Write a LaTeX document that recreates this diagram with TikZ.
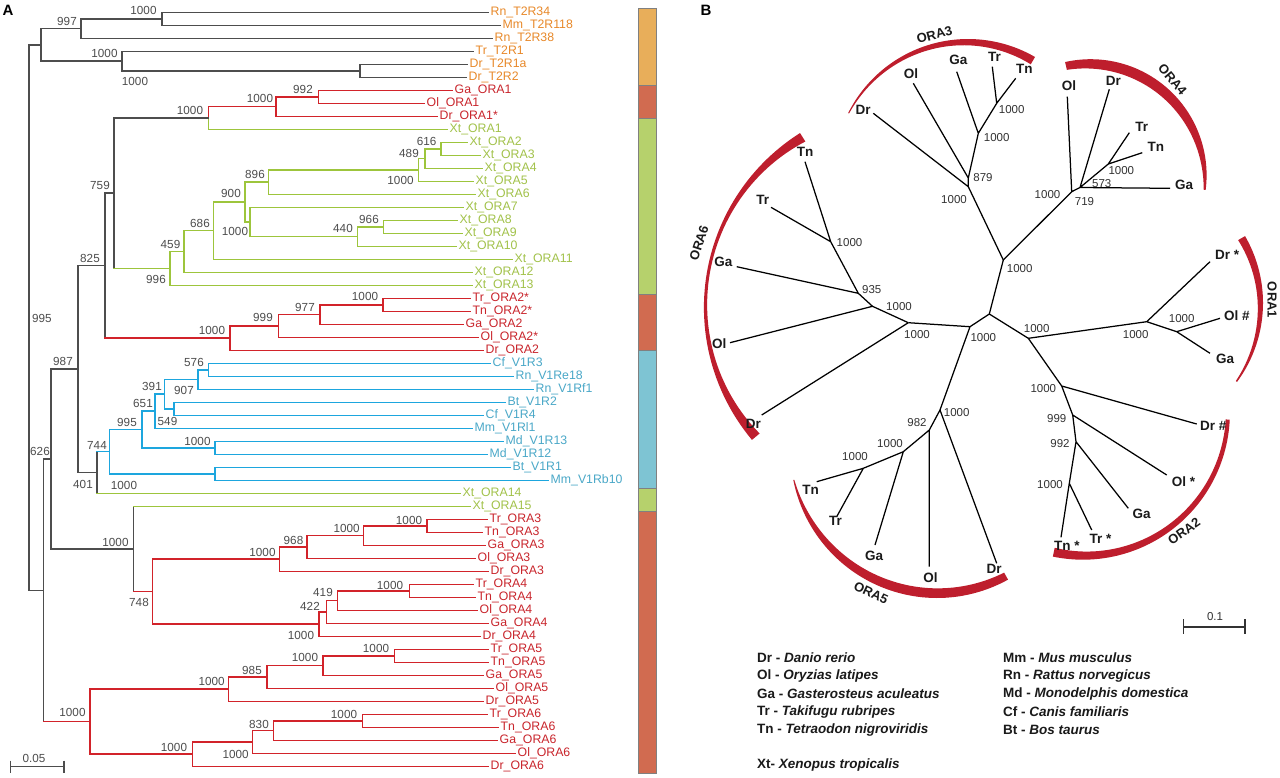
\documentclass[tikz,border=0pt]{standalone}
\usepackage{fontspec}
\setmainfont{Liberation Sans}
\usetikzlibrary{calc}
\definecolor{gry}{HTML}{4D4D4D}
\definecolor{trred}{HTML}{D2232A}
\definecolor{trgrn}{HTML}{9DC53C}
\definecolor{trblu}{HTML}{1DA6DE}
\definecolor{lborg}{HTML}{E8892A}
\definecolor{lbred}{HTML}{C9252C}
\definecolor{lbgrn}{HTML}{A2C24A}
\definecolor{lbblu}{HTML}{4AA8C8}
\definecolor{arcred}{HTML}{BE1E2D}
\definecolor{barorg}{HTML}{E8AE5A}
\definecolor{barred}{HTML}{D16B50}
\definecolor{bargrn}{HTML}{B6D16C}
\definecolor{barblu}{HTML}{7EC4D3}
\definecolor{numgry}{HTML}{333333}
\definecolor{tipblk}{HTML}{1A1A1A}

\newcommand\lf[5]{\coordinate (#1) at (#2,12.3+13*#3); \node[leaflab,text=#5] (#1t) at (#1) {#4};}
\newcommand\inode[4]{\path let \p1=(#3), \p2=(#4) in coordinate (#1) at (#2,{0.5*\y1+0.5*\y2});}
\newcommand\ed[4]{\draw[br,#3] (#1) -- (#1 |- #2); \draw[br,#4] (#1 |- #2) -- (#2);}
\newcommand\bl[3]{\node[bs] (#1) at (#2) {#3};}
\newcommand\rb[3]{\node[rbs] (#1) at (#2) {#3};}
\newcommand\crescent[8]{%
 \fill[arcred, declare function={ss(\u)=(\u-(#4))/((#5)-(#4)); wf(\u)=(#6)*(1-ss(\u))*(1-2*ss(\u))+4*(#7)*ss(\u)*(1-ss(\u))+(#8)*ss(\u)*(2*ss(\u)-1);}]
 plot[domain=#4:#5, samples=60, variable=\t] ({#1+#3*cos(\t)},{#2+#3*sin(\t)})
 -- plot[domain=#5:#4, samples=60, variable=\t] ({#1+(#3-wf(\t))*cos(\t)},{#2+(#3-wf(\t))*sin(\t)}) -- cycle;}

\begin{document}
\begin{tikzpicture}[x=1pt,y=-1pt,
 br/.style={line width=1.6pt, line cap=rect},
 leaflab/.style={anchor=west, inner sep=0pt, xshift=2.5pt, font=\fontsize{12.3}{13}\selectfont},
 bs/.style={inner sep=0pt, font=\fontsize{11.7}{12}\selectfont, text=gry},
 rbs/.style={inner sep=0pt, font=\fontsize{11.5}{12}\selectfont, text=numgry},
 rt/.style={line width=1.25pt, black},
 tip/.style={inner sep=0pt, font=\bfseries\fontsize{13.5}{14}\selectfont, text=tipblk},
 oralab/.style={inner sep=0pt, font=\bfseries\fontsize{13}{13}\selectfont, text=tipblk},
 leg/.style={anchor=west, inner sep=0pt, font=\bfseries\fontsize{13.5}{14}\selectfont, text=tipblk}]
\useasboundingbox (0,0) rectangle (1280,777);
\fill[white] (0,0) rectangle (1280,777);

% panel letters
\node[inner sep=0pt, font=\bfseries\fontsize{15}{15}\selectfont] (pA) at (8,10) {A};
\node[inner sep=0pt, font=\bfseries\fontsize{15}{15}\selectfont] (pB) at (706,10) {B};

% ---------------- left tree leaves
\lf{l0}{488}{0}{Rn\_T2R34}{lborg}
\lf{l1}{500}{1}{Mm\_T2R118}{lborg}
\lf{l2}{492}{2}{Rn\_T2R38}{lborg}
\lf{l3}{473}{3}{Tr\_T2R1}{lborg}
\lf{l4}{467}{4}{Dr\_T2R1a}{lborg}
\lf{l5}{466}{5}{Dr\_T2R2}{lborg}
\lf{l6}{452}{6}{Ga\_ORA1}{lbred}
\lf{l7}{424}{7}{Ol\_ORA1}{lbred}
\lf{l8}{437}{8}{Dr\_ORA1*}{lbred}
\lf{l9}{447}{9}{Xt\_ORA1}{lbgrn}
\lf{l10}{467}{10}{Xt\_ORA2}{lbgrn}
\lf{l11}{480}{11}{Xt\_ORA3}{lbgrn}
\lf{l12}{482}{12}{Xt\_ORA4}{lbgrn}
\lf{l13}{473}{13}{Xt\_ORA5}{lbgrn}
\lf{l14}{475}{14}{Xt\_ORA6}{lbgrn}
\lf{l15}{463}{15}{Xt\_ORA7}{lbgrn}
\lf{l16}{457}{16}{Xt\_ORA8}{lbgrn}
\lf{l17}{462}{17}{Xt\_ORA9}{lbgrn}
\lf{l18}{456}{18}{Xt\_ORA10}{lbgrn}
\lf{l19}{512}{19}{Xt\_ORA11}{lbgrn}
\lf{l20}{472}{20}{Xt\_ORA12}{lbgrn}
\lf{l21}{472}{21}{Xt\_ORA13}{lbgrn}
\lf{l22}{470}{22}{Tr\_ORA2*}{lbred}
\lf{l23}{470}{23}{Tn\_ORA2*}{lbred}
\lf{l24}{463}{24}{Ga\_ORA2}{lbred}
\lf{l25}{478}{25}{Ol\_ORA2*}{lbred}
\lf{l26}{483}{26}{Dr\_ORA2}{lbred}
\lf{l27}{490}{27}{Cf\_V1R3}{lbblu}
\lf{l28}{513}{28}{Rn\_V1Re18}{lbblu}
\lf{l29}{533}{29}{Rn\_V1Rf1}{lbblu}
\lf{l30}{505}{30}{Bt\_V1R2}{lbblu}
\lf{l31}{483}{31}{Cf\_V1R4}{lbblu}
\lf{l32}{472}{32}{Mm\_V1Rl1}{lbblu}
\lf{l33}{503}{33}{Md\_V1R13}{lbblu}
\lf{l34}{487}{34}{Md\_V1R12}{lbblu}
\lf{l35}{510}{35}{Bt\_V1R1}{lbblu}
\lf{l36}{548}{36}{Mm\_V1Rb10}{lbblu}
\lf{l37}{460}{37}{Xt\_ORA14}{lbgrn}
\lf{l38}{470}{38}{Xt\_ORA15}{lbgrn}
\lf{l39}{487}{39}{Tr\_ORA3}{lbred}
\lf{l40}{482}{40}{Tn\_ORA3}{lbred}
\lf{l41}{485}{41}{Ga\_ORA3}{lbred}
\lf{l42}{475}{42}{Ol\_ORA3}{lbred}
\lf{l43}{488}{43}{Dr\_ORA3}{lbred}
\lf{l44}{473}{44}{Tr\_ORA4}{lbred}
\lf{l45}{475}{45}{Tn\_ORA4}{lbred}
\lf{l46}{477}{46}{Ol\_ORA4}{lbred}
\lf{l47}{488}{47}{Ga\_ORA4}{lbred}
\lf{l48}{480}{48}{Dr\_ORA4}{lbred}
\lf{l49}{488}{49}{Tr\_ORA5}{lbred}
\lf{l50}{488}{50}{Tn\_ORA5}{lbred}
\lf{l51}{483}{51}{Ga\_ORA5}{lbred}
\lf{l52}{493}{52}{Ol\_ORA5}{lbred}
\lf{l53}{483}{53}{Dr\_ORA5}{lbred}
\lf{l54}{487}{54}{Tr\_ORA6}{lbred}
\lf{l55}{498}{55}{Tn\_ORA6}{lbred}
\lf{l56}{497}{56}{Ga\_ORA6}{lbred}
\lf{l57}{515}{57}{Ol\_ORA6}{lbred}
\lf{l58}{488}{58}{Dr\_ORA6}{lbred}

% ---------------- left tree internal nodes
\inode{t1}{161.7}{l0}{l1}
\inode{t2}{80.7}{t1}{l2}
\inode{t4}{360}{l4}{l5}
\inode{t3}{121.7}{l3}{t4}
\inode{t5}{40.7}{t2}{t3}
\inode{o1a}{318.3}{l6}{l7}
\inode{o1b}{276}{o1a}{l8}
\inode{o1}{208.3}{o1b}{l9}
\inode{x616}{440.7}{l10}{l11}
\inode{x489}{425}{x616}{l12}
\inode{xa}{418.3}{x489}{l13}
\inode{x896}{268.3}{xa}{l14}
\inode{x966}{383.3}{l16}{l17}
\inode{x440}{357.3}{x966}{l18}
\inode{xb}{250}{l15}{x440}
\inode{x900}{245}{x896}{xb}
\inode{x213}{213.3}{x900}{l19}
\inode{x686}{184}{x213}{l20}
\inode{x459}{170}{x686}{l21}
\inode{n759}{114}{o1}{x459}
\inode{a977a}{382.7}{l22}{l23}
\inode{a977}{320}{a977a}{l24}
\inode{a999}{278.3}{a977}{l25}
\inode{o2}{230}{a999}{l26}
\inode{n825}{105}{n759}{o2}
\inode{v576}{208.3}{l27}{l28}
\inode{v907}{197.7}{v576}{l29}
\inode{v549}{174}{l30}{l31}
\inode{v391}{164.3}{v907}{v549}
\inode{v651}{155}{v391}{l32}
\inode{vmd}{215}{l33}{l34}
\inode{v995}{141.7}{v651}{vmd}
\inode{vbm}{215}{l35}{l36}
\inode{v744}{109.3}{v995}{vbm}
\inode{n401}{96.7}{v744}{l37}
\inode{n987}{77.7}{n825}{n401}
\inode{r3a}{426.7}{l39}{l40}
\inode{r3b}{363.3}{r3a}{l41}
\inode{r968}{306.7}{r3b}{l42}
\inode{r3}{279.3}{r968}{l43}
\inode{r4a}{409.3}{l44}{l45}
\inode{r419}{337.3}{r4a}{l46}
\inode{r422}{326.3}{r419}{l47}
\inode{r4}{319}{r422}{l48}
\inode{r748}{152.3}{r3}{r4}
\inode{n133}{133.3}{l38}{r748}
\inode{n995}{50.7}{n987}{n133}
\inode{r5a}{394.3}{l49}{l50}
\inode{r5b}{322.7}{r5a}{l51}
\inode{r985}{266.7}{r5b}{l52}
\inode{r5}{228.3}{r985}{l53}
\inode{r6a}{362.3}{l54}{l55}
\inode{r830}{273.3}{r6a}{l56}
\inode{r6b}{252.3}{r830}{l57}
\inode{r6}{192.3}{r6b}{l58}
\inode{r56}{90}{r5}{r6}
\inode{n626}{43.3}{n995}{r56}
\inode{root}{29}{t5}{n626}

% ---------------- left tree edges
\ed{t1}{l0}{gry}{gry} \ed{t1}{l1}{gry}{gry}
\ed{t2}{t1}{gry}{gry} \ed{t2}{l2}{gry}{gry}
\ed{t4}{l4}{gry}{gry} \ed{t4}{l5}{gry}{gry}
\ed{t3}{l3}{gry}{gry} \ed{t3}{t4}{gry}{gry}
\ed{t5}{t2}{gry}{gry} \ed{t5}{t3}{gry}{gry}
\ed{root}{t5}{gry}{gry} \ed{root}{n626}{gry}{gry}
\ed{o1a}{l6}{trred}{trred} \ed{o1a}{l7}{trred}{trred}
\ed{o1b}{o1a}{trred}{trred} \ed{o1b}{l8}{trred}{trred}
\ed{o1}{o1b}{trred}{trred} \ed{o1}{l9}{trgrn}{trgrn}
\ed{n759}{o1}{gry}{gry} \ed{n759}{x459}{gry}{trgrn}
\ed{x616}{l10}{trgrn}{trgrn} \ed{x616}{l11}{trgrn}{trgrn}
\ed{x489}{x616}{trgrn}{trgrn} \ed{x489}{l12}{trgrn}{trgrn}
\ed{xa}{x489}{trgrn}{trgrn} \ed{xa}{l13}{trgrn}{trgrn}
\ed{x896}{xa}{trgrn}{trgrn} \ed{x896}{l14}{trgrn}{trgrn}
\ed{x966}{l16}{trgrn}{trgrn} \ed{x966}{l17}{trgrn}{trgrn}
\ed{x440}{x966}{trgrn}{trgrn} \ed{x440}{l18}{trgrn}{trgrn}
\ed{xb}{l15}{trgrn}{trgrn} \ed{xb}{x440}{trgrn}{trgrn}
\ed{x900}{x896}{trgrn}{trgrn} \ed{x900}{xb}{trgrn}{trgrn}
\ed{x213}{x900}{trgrn}{trgrn} \ed{x213}{l19}{trgrn}{trgrn}
\ed{x686}{x213}{trgrn}{trgrn} \ed{x686}{l20}{trgrn}{trgrn}
\ed{x459}{x686}{trgrn}{trgrn} \ed{x459}{l21}{trgrn}{trgrn}
\ed{a977a}{l22}{trred}{trred} \ed{a977a}{l23}{trred}{trred}
\ed{a977}{a977a}{trred}{trred} \ed{a977}{l24}{trred}{trred}
\ed{a999}{a977}{trred}{trred} \ed{a999}{l25}{trred}{trred}
\ed{o2}{a999}{trred}{trred} \ed{o2}{l26}{trred}{trred}
\ed{n825}{n759}{gry}{gry} \ed{n825}{o2}{gry}{trred}
\ed{v576}{l27}{trblu}{trblu} \ed{v576}{l28}{trblu}{trblu}
\ed{v907}{v576}{trblu}{trblu} \ed{v907}{l29}{trblu}{trblu}
\ed{v549}{l30}{trblu}{trblu} \ed{v549}{l31}{trblu}{trblu}
\ed{v391}{v907}{trblu}{trblu} \ed{v391}{v549}{trblu}{trblu}
\ed{v651}{v391}{trblu}{trblu} \ed{v651}{l32}{trblu}{trblu}
\ed{vmd}{l33}{trblu}{trblu} \ed{vmd}{l34}{trblu}{trblu}
\ed{v995}{v651}{trblu}{trblu} \ed{v995}{vmd}{trblu}{trblu}
\ed{vbm}{l35}{trblu}{trblu} \ed{vbm}{l36}{trblu}{trblu}
\ed{v744}{v995}{trblu}{trblu} \ed{v744}{vbm}{trblu}{trblu}
\ed{n401}{v744}{gry}{trblu} \ed{n401}{l37}{gry}{trgrn}
\ed{n987}{n825}{gry}{gry} \ed{n987}{n401}{gry}{gry}
\ed{r3a}{l39}{trred}{trred} \ed{r3a}{l40}{trred}{trred}
\ed{r3b}{r3a}{trred}{trred} \ed{r3b}{l41}{trred}{trred}
\ed{r968}{r3b}{trred}{trred} \ed{r968}{l42}{trred}{trred}
\ed{r3}{r968}{trred}{trred} \ed{r3}{l43}{trred}{trred}
\ed{r4a}{l44}{trred}{trred} \ed{r4a}{l45}{trred}{trred}
\ed{r419}{r4a}{trred}{trred} \ed{r419}{l46}{trred}{trred}
\ed{r422}{r419}{trred}{trred} \ed{r422}{l47}{trred}{trred}
\ed{r4}{r422}{trred}{trred} \ed{r4}{l48}{trred}{trred}
\ed{r748}{r3}{trred}{trred} \ed{r748}{r4}{trred}{trred}
\ed{n133}{l38}{gry}{trgrn} \ed{n133}{r748}{gry}{trred}
\ed{n995}{n987}{gry}{gry} \ed{n995}{n133}{gry}{gry}
\ed{r5a}{l49}{trred}{trred} \ed{r5a}{l50}{trred}{trred}
\ed{r5b}{r5a}{trred}{trred} \ed{r5b}{l51}{trred}{trred}
\ed{r985}{r5b}{trred}{trred} \ed{r985}{l52}{trred}{trred}
\ed{r5}{r985}{trred}{trred} \ed{r5}{l53}{trred}{trred}
\ed{r6a}{l54}{trred}{trred} \ed{r6a}{l55}{trred}{trred}
\ed{r830}{r6a}{trred}{trred} \ed{r830}{l56}{trred}{trred}
\ed{r6b}{r830}{trred}{trred} \ed{r6b}{l57}{trred}{trred}
\ed{r6}{r6b}{trred}{trred} \ed{r6}{l58}{trred}{trred}
\ed{r56}{r5}{trred}{trred} \ed{r56}{r6}{trred}{trred}
\ed{n626}{n995}{gry}{gry} \ed{n626}{r56}{gry}{trred}

% ---------------- left tree bootstrap values
\bl{b1}{67,21}{997}
\bl{b2}{143.5,10}{1000}
\bl{b3}{104.5,53}{1000}
\bl{b4}{135,81}{1000}
\bl{b5}{260,98.3}{1000}
\bl{b6}{303,89.3}{992}
\bl{b7}{190,110}{1000}
\bl{b8}{100,185}{759}
\bl{b9}{255,174.3}{896}
\bl{b10}{231,193.3}{900}
\bl{b11}{426.7,141.7}{616}
\bl{b12}{409,153.3}{489}
\bl{b13}{400.5,180.7}{1000}
\bl{b14}{200,223.3}{686}
\bl{b15}{235,231.7}{1000}
\bl{b16}{170.5,244}{459}
\bl{b17}{156,279.3}{996}
\bl{b18}{90,258.3}{825}
\bl{b19}{42,318.3}{995}
\bl{b20}{343,228.3}{440}
\bl{b21}{369,219.3}{966}
\bl{b22}{365,296.7}{1000}
\bl{b23}{305,307.3}{977}
\bl{b24}{263,317.7}{999}
\bl{b25}{212,330}{1000}
\bl{b26}{63,361.7}{987}
\bl{b27}{194,362.7}{576}
\bl{b28}{152,386.7}{391}
\bl{b29}{184,390}{907}
\bl{b30}{143,403.3}{651}
\bl{b31}{167.5,421.7}{549}
\bl{b32}{127,422.7}{995}
\bl{b33}{197.5,441.7}{1000}
\bl{b34}{97,445}{744}
\bl{b35}{40,451.7}{626}
\bl{b36}{83,484}{401}
\bl{b37}{124,485}{1000}
\bl{b38}{115.5,542.3}{1000}
\bl{b39}{293.5,540}{968}
\bl{b40}{262.5,552.3}{1000}
\bl{b41}{409,520}{1000}
\bl{b42}{346.7,528.3}{1000}
\bl{b43}{139,602.7}{748}
\bl{b44}{310,606}{422}
\bl{b45}{323,592.7}{419}
\bl{b46}{390,585}{1000}
\bl{b47}{301,635.7}{1000}
\bl{b48}{376,648.3}{1000}
\bl{b49}{305,657.7}{1000}
\bl{b50}{252,670}{985}
\bl{b51}{211.7,681}{1000}
\bl{b52}{72.5,712.7}{1000}
\bl{b53}{344,714}{1000}
\bl{b54}{259,724}{830}
\bl{b55}{174,747.3}{1000}
\bl{b56}{235.7,754.3}{1000}

% left scale bar
\coordinate (sbl) at (10.5,766.7);
\coordinate (sbr) at (64,766.7);
\draw[gry, line width=1.3pt] (sbl) -- (sbr);
\draw[gry, line width=1.3pt] ($(sbl)+(0,-6)$) -- ($(sbl)+(0,6)$);
\draw[gry, line width=1.3pt] ($(sbr)+(0,-6)$) -- ($(sbr)+(0,6)$);
\bl{sbt}{34,758.5}{0.05}

% colour bar
\fill[barorg] (638,8) rectangle (656,85);
\fill[barred] (638,85) rectangle (656,118);
\fill[bargrn] (638,118) rectangle (656,294);
\fill[barred] (638,294) rectangle (656,350);
\fill[barblu] (638,350) rectangle (656,488);
\fill[bargrn] (638,488) rectangle (656,511);
\fill[barred] (638,511) rectangle (656,773);
\draw[gray, line width=1pt] (638,8) rectangle (656,773);
\foreach \yy in {85,118,294,350,488,511} \draw[gray, line width=0.6pt] (638,\yy) -- (656,\yy);

% ---------------- right tree: crescents
\crescent{968}{173}{134}{-153.4}{-60}{1}{5}{8.5}
\crescent{1090.6}{175.2}{116}{-102.7}{7.3}{8}{10}{2}
\crescent{1129.8}{302.9}{133.2}{-30.1}{36.4}{8}{5}{1.5}
\crescent{1082.9}{412.7}{147}{2.7}{101.8}{4}{6}{9}
\crescent{937}{451.5}{146.5}{168.8}{61}{1}{9}{8}
\crescent{910.3}{307.5}{206.4}{140.1}{237.7}{10}{3}{10}

\node[oralab, rotate=15] (g3) at (934.5,35) {ORA3};
\node[oralab, rotate=-50] (g4) at (1172.5,79.5) {ORA4};
\node[oralab, rotate=-90] (g1) at (1272,300) {ORA1};
\node[oralab, rotate=35] (g2) at (1184,531.5) {ORA2};
\node[oralab, rotate=-25] (g5) at (871,593) {ORA5};
\node[oralab, rotate=72] (g6) at (699,243) {ORA6};

% ---------------- right tree nodes
\coordinate (X1) at (1003.3,260);
\coordinate (X2) at (989.3,314);
\coordinate (X3) at (970,326.7);
\coordinate (X4) at (908.3,322.7);
\coordinate (X5) at (1028.3,338.3);
% ORA3
\coordinate (A3a) at (968.3,186.7);
\coordinate (A3b) at (968.3,178);
\coordinate (A3c) at (978.3,133.3);
\coordinate (A3d) at (996.7,103.3);
\coordinate (T3dr) at (873.3,113.3);
\coordinate (T3ol) at (913.3,83.3);
\coordinate (T3ga) at (956.7,71.7);
\coordinate (T3tr) at (992.3,66.7);
\coordinate (T3tn) at (1015.7,78.3);
% ORA4
\coordinate (A4a) at (1071.7,191.7);
\coordinate (A4b) at (1080,187.5);
\coordinate (A4c) at (1108.3,164);
\coordinate (T4ol) at (1067.3,96.7);
\coordinate (T4dr) at (1109.3,89.3);
\coordinate (T4tr) at (1129.3,132.7);
\coordinate (T4tn) at (1142.3,152.7);
\coordinate (T4ga) at (1170,188.3);
% ORA6
\coordinate (Z1) at (872.5,306.3);
\coordinate (Z2) at (858.3,293.3);
\coordinate (Z3) at (830.7,241.7);
\coordinate (T6dr) at (761.7,415);
\coordinate (T6ol) at (730,342.7);
\coordinate (T6ga) at (736.7,266.7);
\coordinate (T6tr) at (771,207.3);
\coordinate (T6tn) at (805,161.7);
% ORA5
\coordinate (Y1) at (940,410);
\coordinate (Y2) at (929.3,430);
\coordinate (Y3) at (903.3,451.7);
\coordinate (Y4) at (863.3,468.3);
\coordinate (T5dr) at (996.7,563.3);
\coordinate (T5ol) at (929.3,566.7);
\coordinate (T5ga) at (875,545);
\coordinate (T5tn) at (816.7,481.7);
\coordinate (T5tr) at (836.7,516.7);
% ORA1
\coordinate (W1) at (1146.7,321.7);
\coordinate (W2) at (1176.7,331.7);
\coordinate (T1dr) at (1210,261.7);
\coordinate (T1ol) at (1220,318.3);
\coordinate (T1ga) at (1210,353.3);
% ORA2
\coordinate (V1) at (1061.7,386);
\coordinate (V2) at (1072.7,415);
\coordinate (V3) at (1076,441.7);
\coordinate (V4) at (1069.3,483.3);
\coordinate (T2dr) at (1196.7,424);
\coordinate (T2ol) at (1166.7,475);
\coordinate (T2ga) at (1128.3,508.3);
\coordinate (T2tn) at (1061,537.3);
\coordinate (T2tr) at (1091.7,530);

% right tree edges
\draw[rt] (X1) -- (X2) (X2) -- (X3) (X2) -- (X5) (X3) -- (X4) (X3) -- (Y1);
\draw[rt] (X1) -- (A3a) (A3a) -- (T3dr) (A3a) -- (A3b) (A3b) -- (T3ol) (A3b) -- (A3c)
  (A3c) -- (T3ga) (A3c) -- (A3d) (A3d) -- (T3tr) (A3d) -- (T3tn);
\draw[rt] (X1) -- (A4a) (A4a) -- (T4ol) (A4a) -- (A4b) (A4b) -- (T4ga) (A4b) -- (T4dr)
  (A4b) -- (A4c) (A4c) -- (T4tr) (A4c) -- (T4tn);
\draw[rt] (X4) -- (T6dr) (X4) -- (Z1) (Z1) -- (T6ol) (Z1) -- (Z2) (Z2) -- (T6ga)
  (Z2) -- (Z3) (Z3) -- (T6tr) (Z3) -- (T6tn);
\draw[rt] (Y1) -- (T5dr) (Y1) -- (Y2) (Y2) -- (T5ol) (Y2) -- (Y3) (Y3) -- (T5ga)
  (Y3) -- (Y4) (Y4) -- (T5tn) (Y4) -- (T5tr);
\draw[rt] (X5) -- (W1) (W1) -- (T1dr) (W1) -- (W2) (W2) -- (T1ol) (W2) -- (T1ga);
\draw[rt] (X5) -- (V1) (V1) -- (T2dr) (V1) -- (V2) (V2) -- (T2ol) (V2) -- (V3)
  (V3) -- (T2ga) (V3) -- (V4) (V4) -- (T2tn) (V4) -- (T2tr);

% right tree tip labels
\node[tip] (k3dr) at (863,110) {Dr};
\node[tip] (k3ol) at (911,73.3) {Ol};
\node[tip] (k3ga) at (958.3,60) {Ga};
\node[tip] (k3tr) at (994.5,56.7) {Tr};
\node[tip] (k3tn) at (1024.3,68.7) {Tn};
\node[tip] (k4ol) at (1069,85.3) {Ol};
\node[tip] (k4dr) at (1113.3,80.5) {Dr};
\node[tip] (k4tr) at (1141.7,126.7) {Tr};
\node[tip] (k4tn) at (1155.8,146.7) {Tn};
\node[tip] (k4ga) at (1184,185.3) {Ga};
\node[tip] (k6tn) at (805,151.7) {Tn};
\node[tip] (k6tr) at (762.8,199.7) {Tr};
\node[tip] (k6ga) at (723.3,261.7) {Ga};
\node[tip] (k6ol) at (719.2,343.8) {Ol};
\node[tip] (k6dr) at (753.3,423.8) {Dr};
\node[tip] (k5dr) at (994.2,569) {Dr};
\node[tip] (k5ol) at (930.5,577.5) {Ol};
\node[tip] (k5ga) at (874,556) {Ga};
\node[tip] (k5tr) at (835.5,521) {Tr};
\node[tip] (k5tn) at (810.5,489.5) {Tn};
\node[tip, anchor=west] (k1dr) at (1215,255) {Dr *};
\node[tip, anchor=west] (k1ol) at (1224,315.5) {Ol \#};
\node[tip] (k1ga) at (1225,358.7) {Ga};
\node[tip, anchor=west] (k2dr) at (1200,426) {Dr \#};
\node[tip, anchor=west] (k2ol) at (1171.7,482) {Ol *};
\node[tip] (k2ga) at (1141.7,514) {Ga};
\node[tip, anchor=west] (k2tn) at (1054,545.8) {Tn *};
\node[tip, anchor=west] (k2tr) at (1089.3,539) {Tr *};

% right tree bootstrap values
\rb{c1}{983,177.7}{879}
\rb{c2}{954,199.3}{1000}
\rb{c3}{996.7,137.3}{1000}
\rb{c4}{1011.7,110}{1000}
\rb{c5}{1047.5,194.3}{1000}
\rb{c6}{1084.5,201.7}{719}
\rb{c7}{1101.7,183.3}{573}
\rb{c8}{1121.3,171}{1000}
\rb{c9}{1019.7,268.3}{1000}
\rb{c10}{849.5,242.7}{1000}
\rb{c11}{871.7,290}{935}
\rb{c12}{899,306.3}{1000}
\rb{c13}{917,335}{1000}
\rb{c14}{983.3,337.3}{1000}
\rb{c15}{956.7,412.3}{1000}
\rb{c16}{917,422.7}{982}
\rb{c17}{890,443.3}{1000}
\rb{c18}{855,457}{1000}
\rb{c19}{1036.7,328.3}{1000}
\rb{c20}{1135.7,335}{1000}
\rb{c21}{1181.7,318.3}{1000}
\rb{c22}{1043.3,388.3}{1000}
\rb{c23}{1056.7,418.3}{999}
\rb{c24}{1060,444}{992}
\rb{c25}{1050,484.3}{1000}

% right scale bar
\coordinate (rsl) at (1183.3,627);
\coordinate (rsr) at (1245,627);
\draw[numgry, line width=1.2pt] (rsl) -- (rsr);
\draw[numgry, line width=1.2pt] ($(rsl)+(0,-8)$) -- ($(rsl)+(0,7)$);
\draw[numgry, line width=1.2pt] ($(rsr)+(0,-8)$) -- ($(rsr)+(0,7)$);
\rb{rst}{1215,617}{0.1}

% legend
\node[leg] (e1) at (757,657.5) {Dr - \textit{Danio rerio}};
\node[leg] (e2) at (757,675.5) {Ol - \textit{Oryzias latipes}};
\node[leg] (e3) at (757,693.5) {Ga - \textit{Gasterosteus aculeatus}};
\node[leg] (e4) at (757,711.5) {Tr - \textit{Takifugu rubripes}};
\node[leg] (e5) at (757,729.5) {Tn - \textit{Tetraodon nigroviridis}};
\node[leg] (e6) at (757,765) {Xt- \textit{Xenopus tropicalis}};
\node[leg] (e7) at (1003,657.5) {Mm - \textit{Mus musculus}};
\node[leg] (e8) at (1003,675.5) {Rn - \textit{Rattus norvegicus}};
\node[leg] (e9) at (1003,693.5) {Md - \textit{Monodelphis domestica}};
\node[leg] (e10) at (1003,711.5) {Cf - \textit{Canis familiaris}};
\node[leg] (e11) at (1003,729.5) {Bt - \textit{Bos taurus}};
\end{tikzpicture}
\end{document}
